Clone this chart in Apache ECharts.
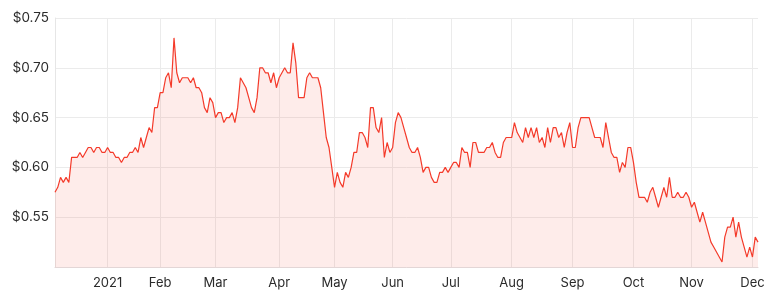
<!DOCTYPE html>
<html>
<head>
<meta charset="utf-8">
<script src="https://cdn.jsdelivr.net/npm/echarts@6/dist/echarts.min.js"></script>
<style>
html,body{margin:0;padding:0;background:#fff;}
#chart{width:776px;height:300px;}
</style>
</head>
<body>
<div id="chart"></div>
<script>
// Daily closing prices (trading days), grouped by month
var dec2020 = [0.575,0.58,0.59,0.585,0.59,0.585,0.61,0.61,0.61,0.615,0.61,0.615,0.62,0.62,0.615,0.62,0.62,0.615,0.615];
var jan2021 = [0.62,0.615,0.615,0.61,0.61,0.605,0.61,0.61,0.615,0.615,0.62,0.615,0.63,0.62,0.63,0.64,0.635,0.66,0.66];
var feb2021 = [0.675,0.675,0.69,0.695,0.68,0.73,0.695,0.685,0.69,0.69,0.69,0.685,0.69,0.68,0.68,0.675,0.66,0.655,0.67,0.665];
var mar2021 = [0.65,0.655,0.655,0.645,0.65,0.65,0.655,0.645,0.66,0.69,0.685,0.68,0.67,0.66,0.655,0.67,0.70,0.70,0.695,0.695,0.685,0.695,0.68];
var apr2021 = [0.69,0.695,0.70,0.695,0.695,0.725,0.705,0.67,0.67,0.67,0.69,0.695,0.69,0.69,0.69,0.68,0.655,0.63,0.62,0.60];
var may2021 = [0.58,0.595,0.585,0.58,0.595,0.59,0.60,0.615,0.615,0.635,0.635,0.63,0.62,0.66,0.66,0.64,0.635,0.65,0.61,0.625,0.615];
var jun2021 = [0.62,0.645,0.655,0.65,0.64,0.63,0.62,0.615,0.615,0.62,0.61,0.595,0.60,0.60,0.59,0.585,0.585,0.595,0.595,0.60,0.595];
var jul2021 = [0.60,0.605,0.605,0.60,0.62,0.615,0.615,0.60,0.625,0.625,0.615,0.615,0.615,0.62,0.62,0.625,0.615,0.61,0.61,0.625,0.63,0.63];
var aug2021 = [0.63,0.645,0.635,0.63,0.625,0.64,0.63,0.64,0.63,0.64,0.625,0.63,0.62,0.64,0.625,0.64,0.64,0.63,0.635,0.62,0.635,0.645];
var sep2021 = [0.62,0.62,0.64,0.65,0.65,0.65,0.65,0.64,0.63,0.63,0.63,0.62,0.645,0.63,0.615,0.61,0.61,0.595,0.605,0.60,0.62,0.62];
var oct2021 = [0.605,0.585,0.57,0.57,0.57,0.565,0.575,0.58,0.57,0.56,0.57,0.58,0.57,0.59,0.57,0.57,0.575,0.57,0.57,0.575,0.57];
var nov2021 = [0.56,0.565,0.555,0.545,0.555,0.545,0.535,0.525,0.52,0.515,0.51,0.505,0.53,0.54,0.54,0.55,0.53,0.545,0.53,0.52,0.51,0.52];
var dec2021 = [0.51,0.53,0.525];

var months = [dec2020,jan2021,feb2021,mar2021,apr2021,may2021,jun2021,jul2021,aug2021,sep2021,oct2021,nov2021,dec2021];
var monthLabels = ['', '2021','Feb','Mar','Apr','May','Jun','Jul','Aug','Sep','Oct','Nov','Dec'];
var yTicks = {min:0.50, max:0.75, interval:0.05};

// Build category list: one category per trading day; first trading day of each month carries the label
var categories = [];
var prices = [];
var firstOfMonth = {};
months.forEach(function(m, mi){
  m.forEach(function(v, di){
    var key = mi + '-' + di;
    if (di === 0 && monthLabels[mi]) firstOfMonth[categories.length] = monthLabels[mi];
    categories.push(key);
    prices.push(v);
  });
});

function isMonthStart(idx){ return firstOfMonth.hasOwnProperty(idx); }

var chart = echarts.init(document.getElementById('chart'), null, {renderer:'canvas'});
chart.setOption({
  animation:false,
  backgroundColor:'#ffffff',
  grid:{left:55, right:18, top:18, bottom:33, containLabel:false},
  xAxis:{
    type:'category',
    data:categories,
    boundaryGap:false,
    axisLine:{show:true, lineStyle:{color:'#e3d6d6', width:1}},
    axisTick:{show:false},
    axisLabel:{
      interval:function(idx){ return isMonthStart(idx); },
      formatter:function(val, idx){ return firstOfMonth[idx] || ''; },
      color:'#2b2b2b', fontFamily:'Inter, sans-serif', fontSize:13, margin:10
    },
    splitLine:{show:true, interval:function(idx){ return isMonthStart(idx); }, lineStyle:{color:'#ebebeb', width:1}}
  },
  yAxis:{
    type:'value',
    min:yTicks.min, max:yTicks.max, interval:yTicks.interval,
    axisLine:{show:true, lineStyle:{color:'#e6e6e6'}},
    axisTick:{show:false},
    axisLabel:{
      showMinLabel:false,
      formatter:function(v){ return '$' + v.toFixed(2); },
      color:'#2b2b2b', fontFamily:'Inter, sans-serif', fontSize:13.5, margin:6
    },
    splitLine:{show:true, lineStyle:{color:'#ebebeb', width:1}}
  },
  series:[{
    type:'line',
    data:prices,
    symbol:'none',
    smooth:false,
    lineStyle:{color:'#f43a2a', width:1.2},
    areaStyle:{color:'rgba(240,60,45,0.14)'}
  }]
});
</script>
</body>
</html>
